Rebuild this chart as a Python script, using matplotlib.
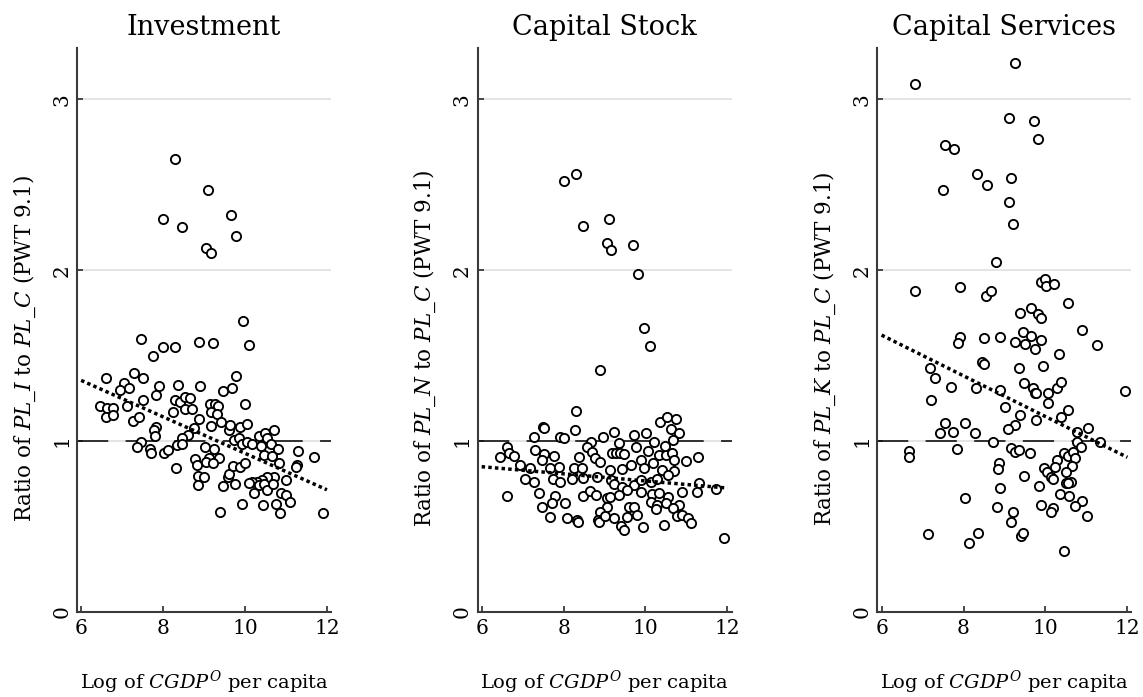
import matplotlib
matplotlib.use("Agg")
import matplotlib.pyplot as plt

plt.rcParams["font.family"] = ["DejaVu Serif"]
plt.rcParams["mathtext.fontset"] = "dejavuserif"
plt.rcParams["lines.scale_dashes"] = False

# ---------------------------------------------------------------- data
inv_x = [8.30, 9.09, 7.99, 8.46, 9.67, 9.79, 9.06, 9.16, 9.95,
         7.47, 7.75, 7.99, 8.30, 8.87, 9.21, 10.09, 6.61, 7.28, 7.52,
         7.05, 6.95, 7.18, 7.90, 7.83, 8.36, 8.89, 9.78, 9.69, 9.46,
         6.46, 6.62, 6.79, 6.61, 6.79, 7.11, 7.50, 7.27, 7.41, 8.28,
         8.42, 8.54, 8.66, 8.53, 8.71, 8.24, 8.87, 9.15, 9.28, 9.33,
         9.17, 9.32, 9.42, 9.99, 9.18, 9.62, 9.64, 9.89, 10.04, 7.82,
         7.77, 7.80, 8.76, 8.62, 8.46, 7.46, 7.37, 7.67, 7.70, 8.03,
         8.11, 8.34, 8.46, 8.32, 9.03, 9.24, 9.36, 9.11, 8.79, 8.83,
         9.06, 9.22, 8.85, 8.99, 8.85, 9.46, 9.59, 9.62, 9.70, 9.75,
         9.89, 10.01, 9.73, 9.85, 9.93, 10.05, 10.18, 10.34, 10.48, 10.53,
         10.72, 10.63, 10.80, 10.40, 10.46, 10.67, 10.83, 11.30, 11.69, 11.26,
         11.24, 10.99, 10.71, 10.54, 10.42, 10.30, 10.18, 10.09, 10.34, 10.46,
         10.23, 10.53, 10.68, 10.87, 10.99, 11.09, 9.93, 10.44, 10.76, 10.85,
         9.38, 11.91]
inv_y = [2.65, 2.47, 2.30, 2.25, 2.32, 2.20, 2.13, 2.10, 1.70,
         1.60, 1.50, 1.55, 1.55, 1.58, 1.575, 1.56, 1.37, 1.40, 1.37,
         1.34, 1.30, 1.31, 1.32, 1.27, 1.33, 1.32, 1.38, 1.31, 1.29,
         1.205, 1.195, 1.195, 1.14, 1.15, 1.205, 1.24, 1.12, 1.14, 1.24,
         1.23, 1.255, 1.25, 1.19, 1.19, 1.17, 1.13, 1.215, 1.215, 1.205,
         1.17, 1.16, 1.11, 1.215, 1.09, 1.065, 1.095, 1.085, 1.10, 1.085,
         1.065, 1.03, 1.075, 1.035, 1.015, 0.995, 0.965, 0.955, 0.93, 0.93,
         0.95, 0.975, 0.98, 0.84, 0.965, 0.955, 0.90, 0.90, 0.895, 0.86,
         0.875, 0.87, 0.795, 0.79, 0.745, 0.735, 0.79, 0.81, 0.855, 0.75,
         0.85, 0.87, 1.005, 1.02, 0.985, 0.995, 0.985, 1.03, 1.045, 1.02,
         1.065, 0.985, 0.955, 0.97, 0.92, 0.91, 0.87, 0.94, 0.905, 0.86,
         0.85, 0.77, 0.79, 0.79, 0.77, 0.76, 0.76, 0.755, 0.745, 0.75,
         0.695, 0.715, 0.75, 0.695, 0.685, 0.645, 0.63, 0.625, 0.63, 0.58,
         0.585, 0.58]

stock_x = [8.00, 8.31, 8.48, 9.10, 9.07, 9.17, 9.69, 9.81, 9.96, 10.10,
           8.89, 8.31, 7.50, 7.53, 7.28, 7.91, 8.02, 8.29, 8.97, 9.23,
           9.72, 10.01, 10.35, 10.52, 10.74, 10.63, 10.81, 10.66, 10.21, 9.35,
           8.67, 6.63, 6.45, 6.66, 6.80, 7.31, 7.53, 7.76, 7.47, 8.37,
           8.56, 8.70, 8.76, 8.90, 9.19, 9.27, 9.38, 9.47, 9.78, 10.05,
           10.33, 10.50, 10.64, 10.70, 10.99, 11.29, 10.48, 6.94, 7.19, 7.68,
           7.88, 8.25, 8.45, 9.13, 9.43, 9.64, 9.88, 9.96, 10.19, 10.41,
           10.70, 10.54, 7.06, 7.27, 7.74, 7.91, 8.21, 8.48, 8.82, 9.15,
           9.23, 9.43, 9.72, 9.88, 10.13, 10.29, 11.31, 11.72, 6.61, 7.39,
           7.80, 7.72, 8.48, 8.64, 8.80, 9.07, 9.13, 9.36, 9.56, 9.90,
           10.17, 10.33, 10.54, 10.89, 11.25, 7.48, 8.04, 9.05, 9.60, 9.72,
           10.13, 10.29, 10.49, 10.82, 8.89, 9.56, 9.80, 10.25, 10.66, 10.77,
           10.88, 11.03, 11.11, 7.66, 8.09, 8.33, 8.35, 8.84, 8.86, 9.02,
           9.23, 9.39, 9.47, 9.95, 10.44, 11.92]
stock_y = [2.52, 2.56, 2.26, 2.30, 2.16, 2.12, 2.15, 1.98, 1.66, 1.555,
           1.415, 1.177, 1.084, 1.078, 1.025, 1.025, 1.019, 1.064, 1.025, 1.054,
           1.035, 1.050, 1.113, 1.142, 1.127, 1.068, 1.045, 1.006, 0.996, 0.990,
           0.996, 0.967, 0.908, 0.928, 0.914, 0.947, 0.924, 0.912, 0.889, 0.908,
           0.967, 0.937, 0.898, 0.879, 0.928, 0.928, 0.928, 0.922, 0.967, 0.943,
           0.918, 0.918, 0.932, 0.889, 0.883, 0.908, 0.971, 0.859, 0.840, 0.840,
           0.850, 0.840, 0.840, 0.830, 0.834, 0.859, 0.889, 0.840, 0.869, 0.830,
           0.824, 0.801, 0.776, 0.762, 0.776, 0.762, 0.776, 0.781, 0.787, 0.772,
           0.748, 0.733, 0.742, 0.772, 0.762, 0.776, 0.752, 0.717, 0.678, 0.698,
           0.678, 0.635, 0.678, 0.709, 0.684, 0.665, 0.670, 0.684, 0.713, 0.703,
           0.690, 0.694, 0.674, 0.703, 0.703, 0.612, 0.635, 0.616, 0.616, 0.616,
           0.645, 0.626, 0.635, 0.626, 0.587, 0.557, 0.567, 0.600, 0.606, 0.561,
           0.567, 0.548, 0.522, 0.557, 0.548, 0.538, 0.528, 0.538, 0.528, 0.561,
           0.548, 0.503, 0.479, 0.499, 0.509, 0.431]

serv_x = [9.25, 6.82, 9.10, 9.73, 9.83, 7.56, 7.77, 8.33, 8.57, 9.15,
          7.50, 9.11, 9.21, 8.80, 6.81, 7.91, 8.56, 8.67, 9.90, 9.98,
          10.02, 10.22, 10.54, 9.37, 9.64, 9.82, 9.90, 9.45, 9.65, 9.90,
          10.90, 11.27, 7.92, 7.86, 8.49, 8.88, 9.25, 9.49, 9.74, 10.33,
          8.45, 8.49, 9.35, 9.94, 7.19, 7.31, 7.69, 7.21, 8.31, 8.90,
          9.47, 9.70, 9.74, 9.78, 10.06, 10.29, 10.37, 10.06, 11.94, 9.02,
          10.54, 9.38, 9.76, 10.37, 7.54, 8.03, 7.42, 7.75, 8.29, 9.25,
          9.08, 8.72, 11.03, 10.78, 10.78, 10.88, 11.32, 6.66, 6.67, 7.83,
          9.15, 9.25, 9.35, 9.62, 10.45, 10.55, 10.68, 10.72, 10.29, 10.66,
          8.87, 8.85, 9.96, 10.05, 10.23, 10.50, 10.13, 10.19, 9.47, 9.84,
          10.50, 10.62, 10.54, 8.89, 10.35, 10.58, 8.04, 8.82, 9.90, 10.19,
          10.13, 10.89, 10.72, 11.01, 9.20, 9.16, 7.14, 8.36, 8.13, 9.41,
          9.46, 10.46]
serv_y = [3.21, 3.09, 2.89, 2.87, 2.77, 2.73, 2.71, 2.56, 2.50, 2.54,
          2.47, 2.40, 2.27, 2.05, 1.88, 1.90, 1.85, 1.88, 1.93, 1.95,
          1.91, 1.92, 1.81, 1.747, 1.776, 1.743, 1.721, 1.639, 1.614, 1.594,
          1.649, 1.561, 1.606, 1.571, 1.604, 1.610, 1.577, 1.567, 1.536, 1.507,
          1.464, 1.448, 1.425, 1.439, 1.425, 1.366, 1.318, 1.240, 1.308, 1.298,
          1.337, 1.308, 1.283, 1.279, 1.279, 1.308, 1.343, 1.224, 1.294, 1.199,
          1.181, 1.152, 1.123, 1.142, 1.103, 1.103, 1.049, 1.053, 1.049, 1.094,
          1.068, 0.996, 1.074, 1.054, 0.996, 0.967, 0.996, 0.941, 0.904, 0.951,
          0.957, 0.938, 0.947, 0.932, 0.928, 0.914, 0.938, 0.899, 0.889, 0.854,
          0.869, 0.834, 0.840, 0.820, 0.850, 0.820, 0.791, 0.776, 0.797, 0.739,
          0.752, 0.762, 0.756, 0.727, 0.688, 0.678, 0.665, 0.616, 0.626, 0.606,
          0.587, 0.649, 0.622, 0.563, 0.583, 0.526, 0.454, 0.460, 0.405, 0.446,
          0.460, 0.359]

# end points of the fitted lines
fit_x = [6, 12]
inv_fit = [1.355, 0.715]
stock_fit = [0.85, 0.725]
serv_fit = [1.62, 0.905]

titles = ["Investment", "Capital Stock", "Capital Services"]
price_codes = ["I", "N", "K"]
x_ticks = [6, 8, 10, 12]
y_ticks = [0, 1, 2, 3]
grid_levels = [1, 2, 3]
parity = 1

panels = [(inv_x, inv_y, inv_fit),
          (stock_x, stock_y, stock_fit),
          (serv_x, serv_y, serv_fit)]

# ---------------------------------------------------------------- figure
fig = plt.figure(figsize=(11.43, 6.97), dpi=100)
lefts = [0.0674, 0.4178, 0.7677]
axis_col = "#3a3a3a"

for left, (xs, ys, fit), title, code in zip(lefts, panels, titles, price_codes):
    ax = fig.add_axes([left, 0.1220, 0.2222, 0.8092])
    ax.set_xlim(5.9, 12.1)
    ax.set_ylim(0, 3.3)

    for lvl in grid_levels:
        ax.axhline(lvl, color="#dcdcdc", lw=1.1, zorder=1)
    ax.axhline(parity, color="#111111", lw=1.2, linestyle=(0, (22.5, 12.5)),
               dash_capstyle="butt", zorder=2)

    ax.scatter(xs, ys, s=44, facecolors="white", edgecolors="black",
               linewidths=1.35, zorder=3)
    ax.plot(fit_x, fit, color="black", lw=2.5, linestyle=(0, (2.5, 2.3)),
            dash_capstyle="butt", zorder=4)

    for side in ("top", "right"):
        ax.spines[side].set_visible(False)
    for side in ("left", "bottom"):
        ax.spines[side].set_color(axis_col)
        ax.spines[side].set_linewidth(1.5)

    ax.set_xticks(x_ticks)
    ax.set_yticks(y_ticks)
    ax.tick_params(direction="in", length=4, width=1.3, color=axis_col,
                   labelsize=14.5, labelcolor="black")
    ax.tick_params(axis="x", pad=5)
    ax.tick_params(axis="y", pad=4)
    for lab in ax.get_yticklabels():
        lab.set_rotation(90)
        lab.set_va("center")

    ax.set_title(title, fontsize=19.5, pad=9)
    ax.set_xlabel(r"Log of $\mathit{CGDP}^{\mathit{O}}$ per capita", fontsize=14)
    ax.xaxis.set_label_coords(0.5, -0.100)
    ax.set_ylabel(r"Ratio of $\mathit{PL\_%s}$ to $\mathit{PL\_C}$ (PWT 9.1)" % code,
                  fontsize=15.5)
    ax.yaxis.set_label_coords(-0.155, 0.467)

fig.savefig("out.png", dpi=100, facecolor="white")
